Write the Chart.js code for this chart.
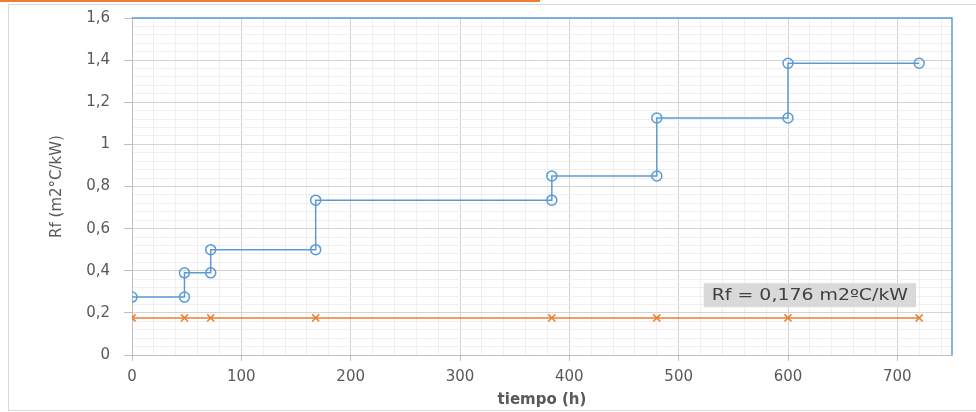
<!DOCTYPE html>
<html lang="es">
<head>
  <meta charset="UTF-8">
  <title>Rf vs tiempo</title>
  <style>
    body { margin: 0; background: #fff; }
    .wrap { position: relative; width: 976px; height: 412px; overflow: hidden; }
    .topline { position: absolute; left: 0; top: 0; width: 540px; height: 2px; background: #ed7d31; }
    .frame { position: absolute; left: 8px; top: 4px; width: 980px; height: 405px; border: 1px solid #d9d9d9; }
    canvas { position: absolute; left: 0; top: 0; }
  </style>
</head>
<body>
  <div class="wrap">
    <div class="topline"></div>
    <div class="frame"></div>
    <canvas id="rfChart" width="976" height="412"></canvas>
  </div>

  <script src="https://cdn.jsdelivr.net/npm/chart.js"></script>
  <script>
    // valores
    const horas = [0, 48, 48, 72, 72, 168, 168, 384, 384, 480, 480, 600, 600, 720];
    const rfMedido = [0.275, 0.275, 0.39, 0.39, 0.5, 0.5, 0.735, 0.735, 0.85, 0.85, 1.125, 1.125, 1.385, 1.385];
    const horasRef = [0, 48, 72, 168, 384, 480, 600, 720];
    const rfDiseno = [0.176, 0.176, 0.176, 0.176, 0.176, 0.176, 0.176, 0.176];
    const etiqueta = 'Rf = 0,176 m2ºC/kW';
    const etiquetaPos = { x: 620, y: 0.284 };

    const font = { family: 'DejaVu Sans', size: 15 };
    const gris = '#595959';

    function isMajor(v, step) {
      return Math.abs(v / step - Math.round(v / step)) < 1e-6;
    }

    // borde azul superior / derecho del area de trazado
    const plotBorder = {
      id: 'plotBorder',
      beforeDatasetsDraw(chart) {
        const a = chart.chartArea, c = chart.ctx;
        c.save();
        c.strokeStyle = '#5b9bd5';
        c.lineWidth = 1.5;
        c.beginPath();
        c.moveTo(a.left, a.top);
        c.lineTo(a.right, a.top);
        c.lineTo(a.right, a.bottom);
        c.stroke();
        c.restore();
      }
    };

    // cuadro de texto (texto algo ensanchado, como en el original)
    const labelBox = {
      id: 'labelBox',
      afterDatasetsDraw(chart) {
        const c = chart.ctx;
        const px = chart.scales.x.getPixelForValue(etiquetaPos.x);
        const py = chart.scales.y.getPixelForValue(etiquetaPos.y);
        const sx = 1.26;
        c.save();
        c.font = '15px "DejaVu Sans"';
        const w = c.measureText(etiqueta).width * sx + 16;
        const h = 24;
        c.fillStyle = '#d9d9d9';
        c.fillRect(px - w / 2, py - h / 2, w, h);
        c.translate(px, py + 1);
        c.scale(sx, 1);
        c.fillStyle = '#404040';
        c.textAlign = 'center';
        c.textBaseline = 'middle';
        c.fillText(etiqueta, 0, 0);
        c.restore();
      }
    };

    const ctx = document.getElementById('rfChart').getContext('2d');
    new Chart(ctx, {
      type: 'line',
      data: {
        datasets: [
          {
            label: 'Rf',
            data: horas.map((h, i) => ({ x: h, y: rfMedido[i] })),
            borderColor: '#5b9bd5',
            backgroundColor: 'rgba(0,0,0,0)',
            borderWidth: 1.5,
            pointStyle: 'circle',
            pointRadius: 5,
            pointBorderWidth: 1.5,
            pointBorderColor: '#5b9bd5',
            pointBackgroundColor: 'rgba(0,0,0,0)',
            tension: 0
          },
          {
            label: 'Rf diseño',
            data: horasRef.map((h, i) => ({ x: h, y: rfDiseno[i] })),
            borderColor: '#ed7d31',
            backgroundColor: 'rgba(0,0,0,0)',
            borderWidth: 1.5,
            pointStyle: 'crossRot',
            pointRadius: 5,
            pointBorderWidth: 1.5,
            pointBorderColor: '#ed7d31',
            tension: 0
          }
        ]
      },
      options: {
        responsive: false,
        animation: false,
        layout: { padding: { top: 18, right: 24, left: 0, bottom: 0 } },
        plugins: { legend: { display: false }, tooltip: { enabled: false } },
        scales: {
          x: {
            type: 'linear',
            min: 0,
            max: 750,
            afterFit(s) { s.height = 57; },
            ticks: {
              stepSize: 20,
              includeBounds: false,
              autoSkip: false,
              maxRotation: 0,
              minRotation: 0,
              padding: 7,
              color: gris,
              font: font,
              callback: v => isMajor(v, 100) ? String(v) : ''
            },
            grid: {
              color: c => isMajor(c.tick.value, 100) ? '#d4d4d4' : '#efefef',
              tickColor: c => isMajor(c.tick.value, 100) ? '#bfbfbf' : 'rgba(0,0,0,0)',
              tickLength: 6
            },
            border: { color: '#bfbfbf' },
            title: {
              display: true,
              text: 'tiempo (h)',
              color: gris,
              font: { family: 'DejaVu Sans', size: 15, weight: 'bold' },
              padding: { top: 0, bottom: 3 }
            }
          },
          y: {
            min: 0,
            max: 1.6,
            afterFit(s) { s.width = 132; s.paddingTop = 0; s.paddingBottom = 0; },
            ticks: {
              stepSize: 0.04,
              autoSkip: false,
              padding: 14,
              color: gris,
              font: font,
              callback: v => isMajor(v, 0.2) ? String(Math.round(v * 10) / 10).replace('.', ',') : ''
            },
            grid: {
              color: c => isMajor(c.tick.value, 0.2) ? '#d4d4d4' : '#efefef',
              tickColor: c => isMajor(c.tick.value, 0.2) ? '#bfbfbf' : 'rgba(0,0,0,0)',
              tickLength: 8
            },
            border: { color: '#bfbfbf' },
            title: {
              display: true,
              text: 'Rf (m2°C/kW)',
              color: gris,
              font: font,
              padding: { top: 48, bottom: 0 }
            }
          }
        }
      },
      plugins: [plotBorder, labelBox]
    });
  </script>
</body>
</html>
